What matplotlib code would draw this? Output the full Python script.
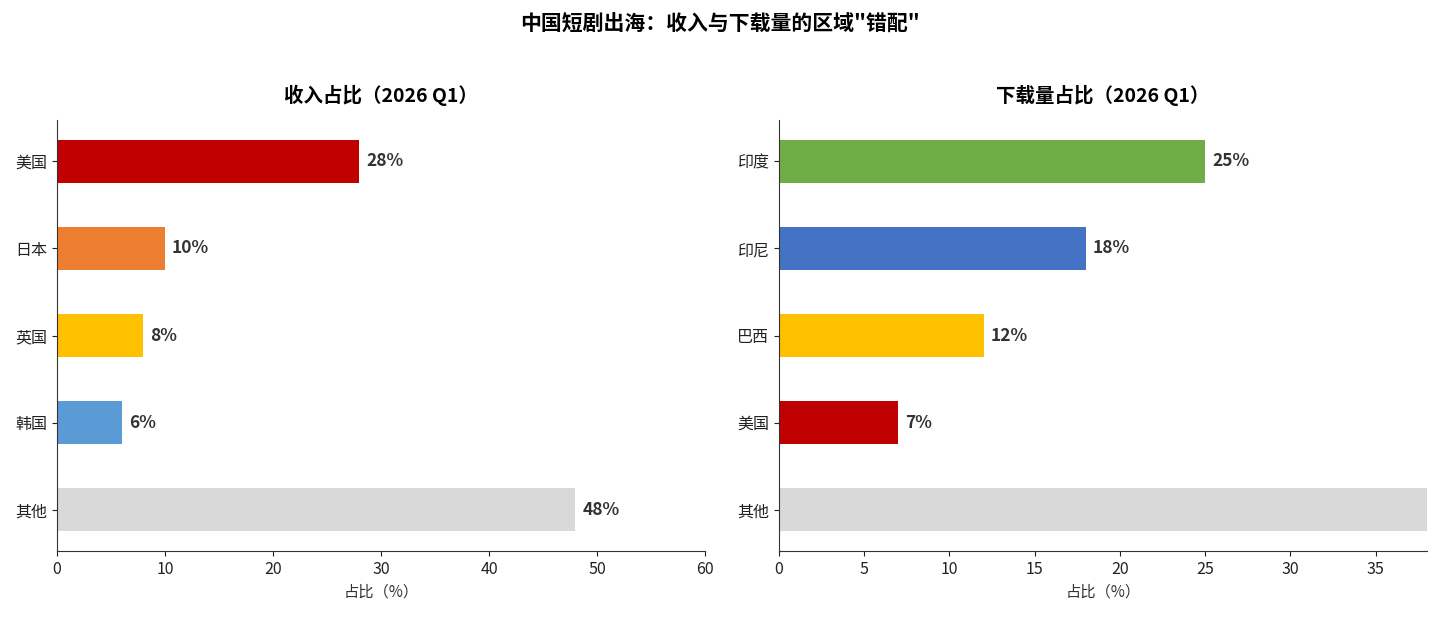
import matplotlib.pyplot as plt

plt.rcParams['font.family'] = ['Noto Sans CJK SC', 'DejaVu Sans']

# revenue share, 2026 Q1
rev_regions = ['美国', '日本', '英国', '韩国', '其他']
rev_share = [28, 10, 8, 6, 48]
rev_colors = ['#C00000', '#ED7D31', '#FFC000', '#5B9BD5', '#D9D9D9']

# download share, 2026 Q1
dl_regions = ['印度', '印尼', '巴西', '美国', '其他']
dl_share = [25, 18, 12, 7, 38]
dl_colors = ['#70AD47', '#4472C4', '#FFC000', '#C00000', '#D9D9D9']

fig = plt.figure(figsize=(14.39, 6.2), dpi=100)
ax1 = fig.add_axes([0.0396, 0.1113, 0.4503, 0.695])
ax2 = fig.add_axes([0.5413, 0.1113, 0.4503, 0.695])

fig.suptitle('中国短剧出海：收入与下载量的区域"错配"', fontsize=15, fontweight='bold', y=0.978)


def draw(ax, regions, values, colors, title, xmax, ticks):
    ax.barh(regions, values, height=0.5, color=colors)
    ax.invert_yaxis()
    ax.set_xlim(0, xmax)
    ax.set_xticks(ticks)
    ax.set_title(title, fontsize=14, fontweight='bold', pad=13)
    ax.set_xlabel('占比（%）', fontsize=11, color='#333333')
    ax.spines['top'].set_visible(False)
    ax.spines['right'].set_visible(False)
    for s in ['left', 'bottom']:
        ax.spines[s].set_color('#333333')
    ax.tick_params(labelsize=11.5, colors='#222222')
    for i, v in enumerate(values):
        if v >= xmax:
            continue  # label falls outside the axis
        ax.annotate(f'{v}%', (v, i), xytext=(5, 0), textcoords='offset points',
                    va='center', ha='left', fontsize=12.5, fontweight='bold', color='#333333')


draw(ax1, rev_regions, rev_share, rev_colors, '收入占比（2026 Q1）', 60, range(0, 61, 10))
draw(ax2, dl_regions, dl_share, dl_colors, '下载量占比（2026 Q1）', 38, range(0, 36, 5))

fig.savefig('out.png', dpi=100)
